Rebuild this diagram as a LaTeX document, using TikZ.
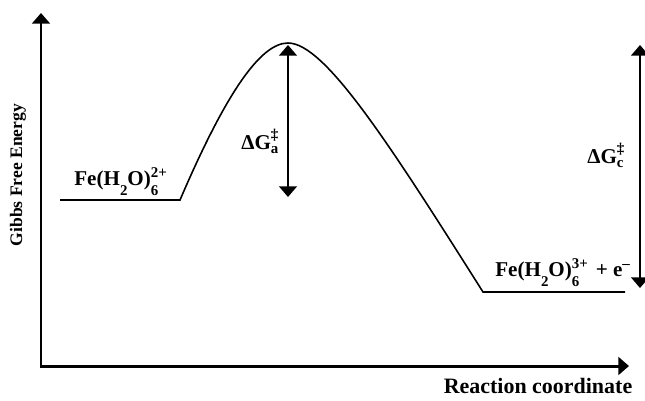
\documentclass[tikz,border=0pt]{standalone}
\usepackage{fontspec}
\setmainfont{Liberation Serif}
\usetikzlibrary{arrows.meta}

% small raised / lowered text for the ion charges
\newcommand{\smalltxt}[1]{{\fontsize{8.5}{9}\selectfont #1}}
\newcommand{\lowr}[1]{\raisebox{-5.8pt}{\smalltxt{#1}}}
\newcommand{\ionch}[2]{\rlap{\lowr{#1}}\raisebox{4pt}{\smalltxt{#2}}}
\newcommand{\dgact}[1]{ΔG\rlap{\raisebox{-2.4pt}{\smalltxt{#1}}}\raisebox{5.6pt}{\smalltxt{‡}}}

\begin{document}
\begin{tikzpicture}[x=0.02cm, y=-0.02cm, >={Triangle[width=10pt, length=6pt]},
    axis/.style={line width=1.7pt},
    level/.style={line width=0.9pt},
    gap/.style={<->, line width=1.1pt},
    lbl/.style={font=\fontsize{12}{14}\selectfont\bfseries, inner sep=0pt}]
    \useasboundingbox (0,0) rectangle (645,400);

    % axes
    \coordinate (origin) at (41,366);
    \coordinate (ytop) at (41,13);
    \coordinate (xend) at (629,366);
    \draw[axis, <->] (ytop) -- (origin) -- (xend);
    \node[lbl, font=\fontsize{10}{12}\selectfont\bfseries, rotate=90] (ylab) at (18,175) {Gibbs Free Energy};
    \node[lbl, font=\fontsize{12.5}{15}\selectfont\bfseries] (xlab) at (538,386) {Reaction coordinate};

    % energy profile
    \coordinate (reacL) at (60,200);
    \coordinate (reacR) at (180,200);
    \coordinate (ts) at (288,43);
    \coordinate (prodL) at (483,292);
    \coordinate (prodR) at (625,292);
    \draw[level] (reacL) -- (reacR) .. controls (225,95) and (260,43) .. (ts)
        .. controls (325,43) and (390,145) .. (prodL) -- (prodR);

    % barriers
    \coordinate (atop) at (288,45);
    \coordinate (abot) at (288,197);
    \coordinate (ctop) at (640,45);
    \coordinate (cbot) at (640,288);
    \draw[gap] (atop) -- (abot);
    \draw[gap] (ctop) -- (cbot);

    \node[lbl, anchor=base west] (reac) at (74,185) {Fe(H\lowr{2}O)\ionch{6}{2+}};
    \node[lbl, anchor=base west] (prod) at (495,276) {Fe(H\lowr{2}O)\ionch{6}{3+}\hspace{1.5pt} + e\raisebox{4pt}{\smalltxt{–}}};
    \node[lbl, anchor=base west] (dga) at (241,149) {\dgact{a}};
    \node[lbl, anchor=base west] (dgc) at (587,163) {\dgact{c}};
\end{tikzpicture}
\end{document}
